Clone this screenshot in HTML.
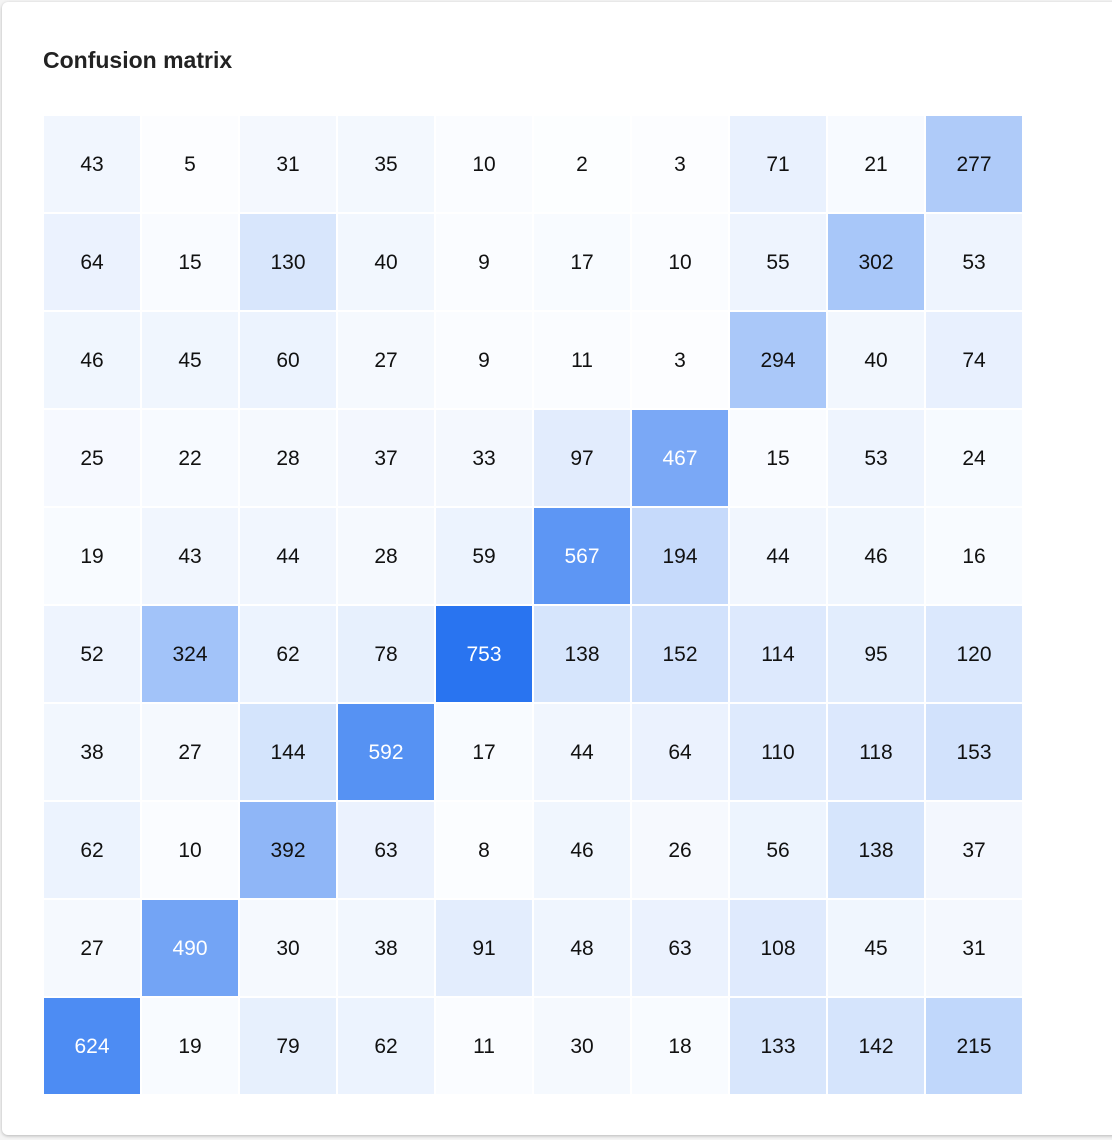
<!DOCTYPE html>
<html><head><meta charset="utf-8"><style>
body{margin:0;background:#f4f4f4;font-family:"Liberation Sans",Arial,sans-serif;}
#card{position:absolute;left:2px;top:2px;width:1130px;height:1133px;background:#fff;border-radius:6px;box-shadow:0 1px 3px rgba(0,0,0,.25);}
#title{position:absolute;left:41px;top:45px;font-size:23px;font-weight:bold;color:#222;}
svg{position:absolute;left:0;top:0;}
</style></head><body>
<div id="card">
<div id="title">Confusion matrix</div>
</div>
<svg id="chart" width="1112" height="1140"></svg>
<script>
const rowLabels=[0,1,2,3,4,5,6,7,8,9];
const colLabels=[0,1,2,3,4,5,6,7,8,9];
const values=[
[43,5,31,35,10,2,3,71,21,277],
[64,15,130,40,9,17,10,55,302,53],
[46,45,60,27,9,11,3,294,40,74],
[25,22,28,37,33,97,467,15,53,24],
[19,43,44,28,59,567,194,44,46,16],
[52,324,62,78,753,138,152,114,95,120],
[38,27,144,592,17,44,64,110,118,153],
[62,10,392,63,8,46,26,56,138,37],
[27,490,30,38,91,48,63,108,45,31],
[624,19,79,62,11,30,18,133,142,215]];
const svg=document.getElementById('chart');
const NS='http://www.w3.org/2000/svg';
const x0=44,y0=116,W=980,H=980;
const cw=W/colLabels.length,ch=H/rowLabels.length;
const xs=c=>x0+c*cw, ys=r=>y0+r*ch;
let max=0;values.forEach(r=>r.forEach(v=>{if(v>max)max=v;}));
function color(v){const t=v/max;
const r=Math.round(253-(253-41)*t),g=Math.round(254-(254-116)*t),b=Math.round(255-(255-240)*t);
return `rgb(${r},${g},${b})`;}
values.forEach((row,r)=>row.forEach((v,c)=>{
const rect=document.createElementNS(NS,'rect');


rect.setAttribute('x',xs(c));rect.setAttribute('y',ys(r));
rect.setAttribute('width',cw-2);rect.setAttribute('height',ch-2);
rect.setAttribute('fill',color(v));svg.appendChild(rect);
const t=document.createElementNS(NS,'text');


t.setAttribute('x',xs(c)+(cw-2)/2);t.setAttribute('y',ys(r)+(ch-2)/2+7);
t.setAttribute('text-anchor','middle');t.setAttribute('font-size','21');
t.setAttribute('font-family','Liberation Sans, Arial, sans-serif');
t.setAttribute('fill',v/max>0.55?'#fff':'#111');
t.textContent=v;svg.appendChild(t);
}));
</script>
</body></html>
